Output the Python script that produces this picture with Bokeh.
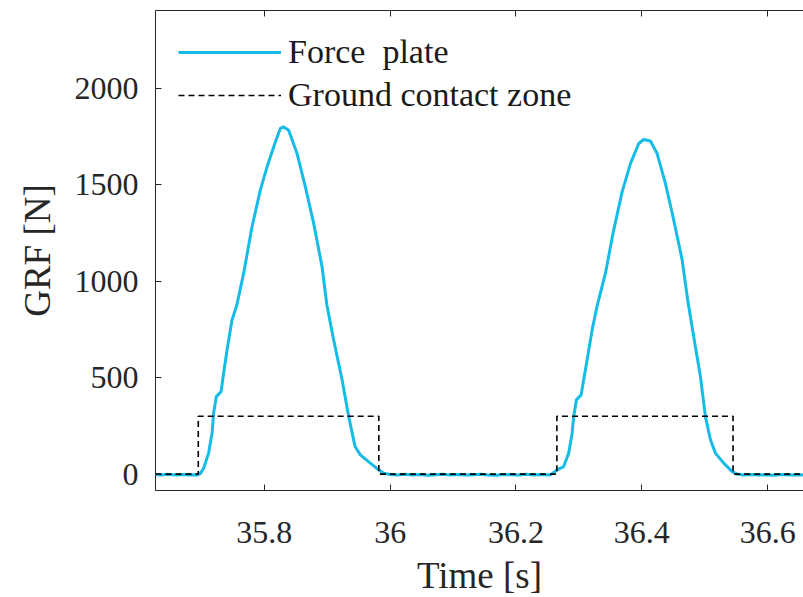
from bokeh.plotting import figure
from bokeh.models import Range1d, LinearAxis, Legend, LegendItem, FixedTicker
from bokeh.embed import file_html
from bokeh.resources import INLINE

# ---- data ----
t_force = [35.627, 35.636, 35.645, 35.654, 35.663, 35.672, 35.681, 35.688, 35.693,
           35.6985, 35.7035, 35.7114, 35.7169, 35.7194, 35.7237, 35.7312, 35.7353,
           35.7407, 35.7486, 35.7563, 35.7671, 35.7804, 35.7936, 35.8043, 35.8175,
           35.8254, 35.8307, 35.8386, 35.8520, 35.8652, 35.8784, 35.8917, 35.8994,
           35.9102, 35.9236, 35.9341, 35.9442, 35.9526, 35.9685, 35.9817, 35.9897,
           36.000, 36.012, 36.024, 36.036, 36.048, 36.060, 36.072, 36.084, 36.096,
           36.108, 36.120, 36.132, 36.144, 36.156, 36.168, 36.180, 36.192, 36.204,
           36.216, 36.228, 36.240, 36.2547, 36.2653, 36.2758, 36.2838, 36.2892,
           36.2917, 36.2960, 36.3035, 36.3076, 36.3130, 36.3210, 36.3289, 36.3421,
           36.3553, 36.3687, 36.3819, 36.3951, 36.4030, 36.4137, 36.4243, 36.4375,
           36.4507, 36.4641, 36.4733, 36.4825, 36.4932, 36.5011, 36.5091, 36.5170,
           36.5302, 36.5436, 36.5515, 36.562, 36.574, 36.586, 36.598, 36.610,
           36.622, 36.634, 36.646, 36.657]
f_force = [-2, -4, -1, -3, -5, -2, -4, -3, -6,
           4, 30, 109, 212, 316, 402, 428, 523,
           644, 799, 877, 1041, 1283, 1473, 1594, 1723,
           1793, 1801, 1784, 1663, 1490, 1301, 1076, 877,
           696, 489, 298, 143, 100, 57, 22, 5,
           -2, -5, -1, -4, -2, -6, -3, -1, -4,
           -2, -5, -3, -1, -4, -6, -2, -3, -5,
           -1, -4, -2, -4, 22, 39, 109, 212,
           298, 385, 411, 489, 592, 748, 872, 1041,
           1266, 1464, 1611, 1715, 1736, 1728, 1663, 1508,
           1318, 1111, 895, 713, 506, 298, 178, 109,
           57, 13, 0, -4, -2, -5, -3, -6,
           -2, -4, -3, -5]

contact_on = [35.695, 36.265]
contact_off = [35.982, 36.545]
contact_level = 300

x_ticks = [35.8, 36.0, 36.2, 36.4, 36.6]
x_tick_labels = ["35.8", "36", "36.2", "36.4", "36.6"]
y_ticks = [0, 500, 1000, 1500, 2000]

x_start, x_end = 35.627, 36.657
y_start, y_end = -85, 2405

# step trace for ground contact zone
t_zone = [x_start]
f_zone = [0]
for a, b in zip(contact_on, contact_off):
    t_zone += [a, a, b, b]
    f_zone += [0, contact_level, contact_level, 0]
t_zone.append(x_end)
f_zone.append(0)

FONT = "Liberation Serif"
AX = "#262626"

p = figure(frame_width=648, frame_height=480, output_backend="svg", toolbar_location=None,
           x_range=Range1d(x_start, x_end), y_range=Range1d(y_start, y_end),
           min_border_left=155, min_border_right=0, min_border_top=10,
           min_border_bottom=106)
p.outline_line_color = None
p.xgrid.visible = False
p.ygrid.visible = False
p.background_fill_color = "white"
p.border_fill_color = "white"

r_force = p.line(t_force, f_force, line_color="#15BCE7", line_width=3)
r_zone = p.line(t_zone, f_zone, line_color="black", line_width=1.6, line_dash="6 4")

for ax in (p.xaxis[0], p.yaxis[0]):
    ax.axis_line_color = AX
    ax.major_tick_line_color = AX
    ax.minor_tick_line_color = None
    ax.major_tick_in = 6
    ax.major_tick_out = 0
    ax.major_label_text_font = FONT
    ax.major_label_text_font_size = "32px"
    ax.major_label_text_color = AX
    ax.axis_label_text_font = FONT
    ax.axis_label_text_font_size = "37px"
    ax.axis_label_text_font_style = "normal"
    ax.axis_label_text_color = AX

p.xaxis[0].ticker = FixedTicker(ticks=x_ticks)
p.xaxis[0].major_label_overrides = dict(zip(x_ticks, x_tick_labels))
p.xaxis[0].axis_label = "Time [s]"
p.xaxis[0].major_label_standoff = 31
p.xaxis[0].axis_label_standoff = 9

p.yaxis[0].ticker = FixedTicker(ticks=y_ticks)
p.yaxis[0].axis_label = "GRF [N]"
p.yaxis[0].major_label_standoff = 17
p.yaxis[0].axis_label_standoff = 14

top = LinearAxis(ticker=FixedTicker(ticks=x_ticks), major_label_text_font_size="1px",
                 major_label_text_color=None,
                 axis_line_color=AX, major_tick_line_color=AX, minor_tick_line_color=None,
                 major_tick_in=6, major_tick_out=0, major_label_standoff=0)
p.add_layout(top, "above")

legend = Legend(items=[LegendItem(label="Force  plate", renderers=[r_force]),
                       LegendItem(label="Ground contact zone", renderers=[r_zone])],
                location="top_left", margin=23, padding=0,
                border_line_color=None, background_fill_alpha=0,
                label_text_font=FONT, label_text_font_size="34px", label_text_color="#1a1a1a",
                glyph_width=103, glyph_height=30, label_height=30, label_standoff=7,
                spacing=5)
p.add_layout(legend)

open("out.html", "w").write(file_html(p, INLINE))
